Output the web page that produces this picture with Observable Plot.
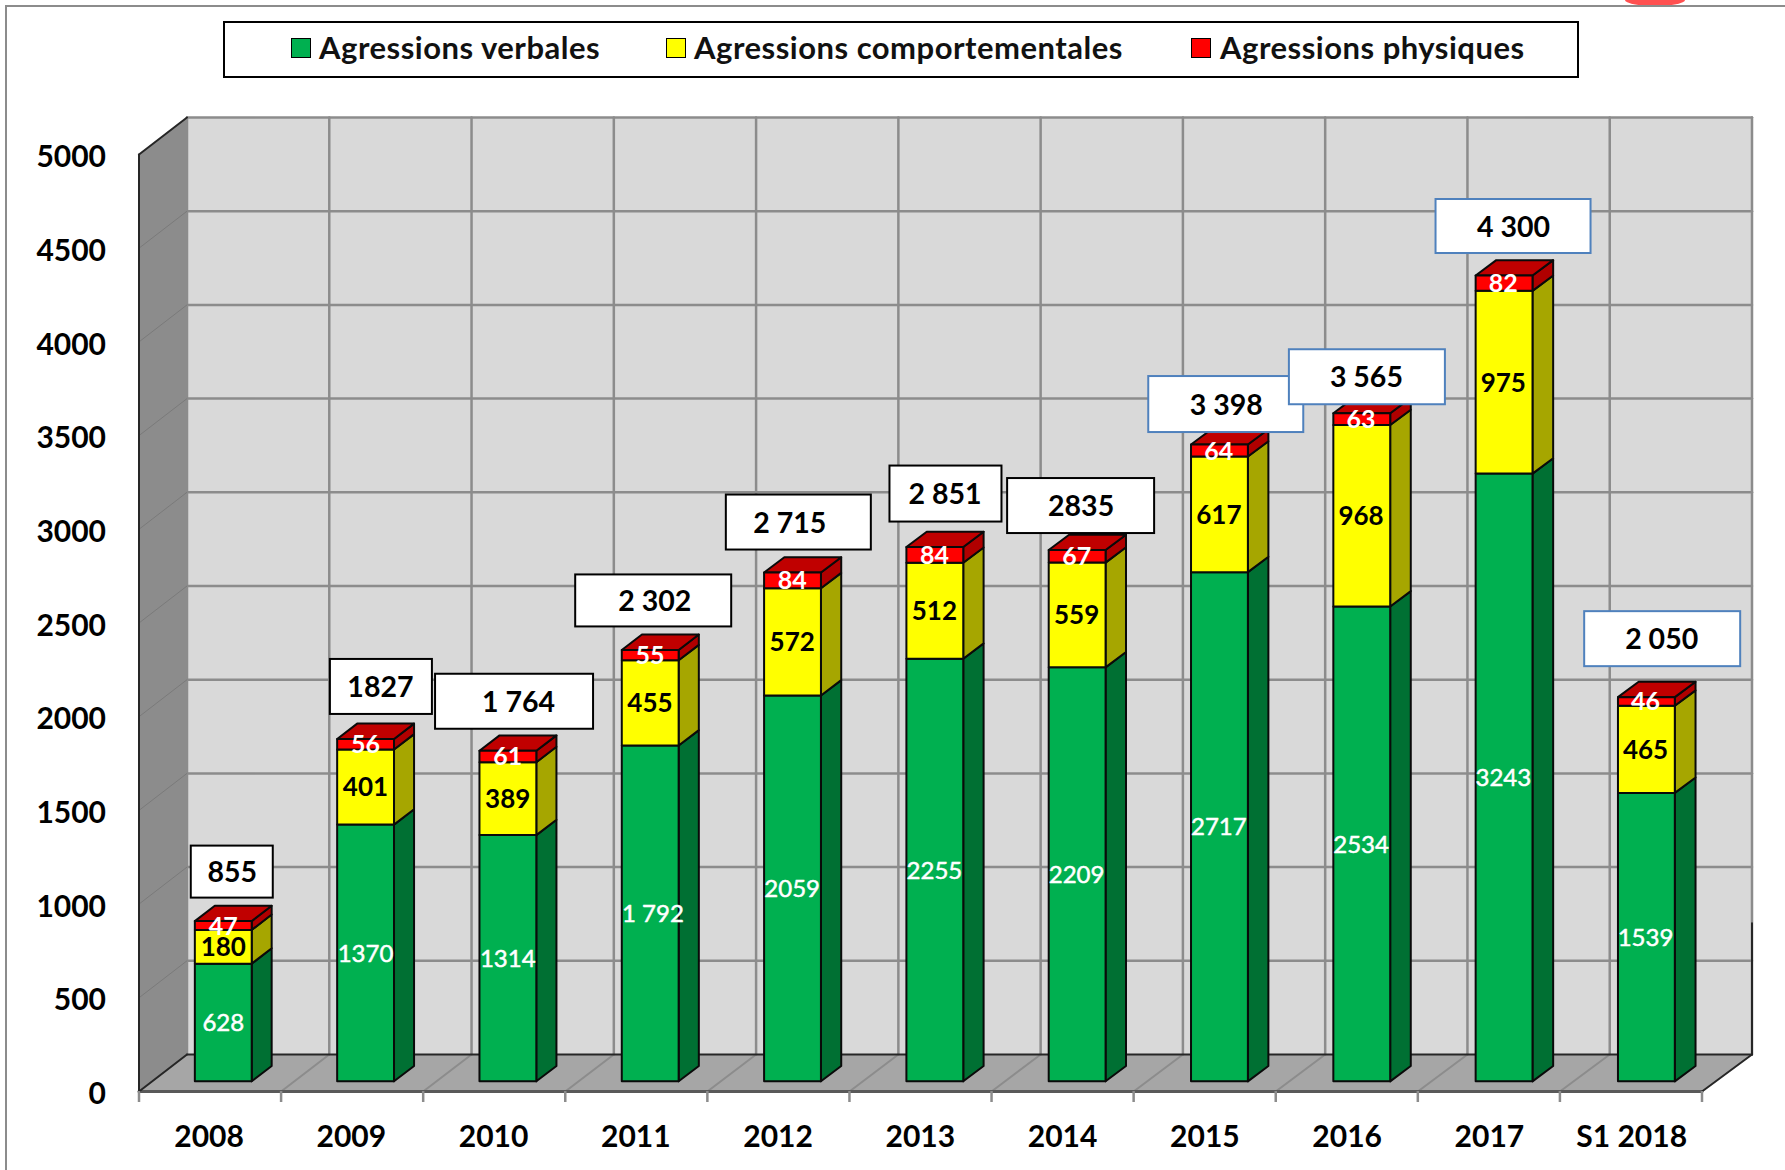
<!DOCTYPE html>
<html lang="fr">
<head>
<meta charset="utf-8">
<script src="https://cdn.jsdelivr.net/npm/d3@7"></script>
<script src="https://cdn.jsdelivr.net/npm/@observablehq/plot@0.6"></script>
<style>
  html, body { margin: 0; padding: 0; background: #fff; overflow: hidden; }
  #page { position: relative; width: 1785px; height: 1170px; overflow: hidden; font-family: Lato, sans-serif; }
  #page svg { display: block; }
  #border { position: absolute; left: 5px; top: 5px; right: -10px; bottom: -10px; border: 2px solid #8c8c8c; }
  #blob { position: absolute; left: 1625px; top: -6px; width: 60px; height: 12px; border-radius: 50%; background: #ff5050; }
  #legend { position: absolute; left: 223px; top: 21px; width: 1352px; height: 53px; border: 2px solid #000; background: #fff; }
  #legend i { position: absolute; top: 15px; width: 18px; height: 18px; border: 1.5px solid #000; }
  #legend span { position: absolute; top: 6px; font-size: 31px; letter-spacing: 0.5px; line-height: 36px; font-weight: 700; color: #111; white-space: nowrap; }
</style>
</head>
<body>
<div id="page">
  <div id="blob"></div>
  <div id="border"></div>
  <div id="chart"></div>
  <div id="legend"></div>
</div>
<script>
// ---- values ----
const categories = ["2008","2009","2010","2011","2012","2013","2014","2015","2016","2017","S1 2018"];
const verbales = [628,1370,1314,1792,2059,2255,2209,2717,2534,3243,1539];
const comportementales = [180,401,389,455,572,512,559,617,968,975,465];
const physiques = [47,56,61,55,84,84,67,64,63,82,46];
const verbalesLabels = ["628","1370","1314","1 792","2059","2255","2209","2717","2534","3243","1539"];
const totalLabels = ["855","1827","1 764","2 302","2 715","2 851","2835","3 398","3 565","4 300","2 050"];
const yTicks = [0,500,1000,1500,2000,2500,3000,3500,4000,4500,5000];
const seriesNames = ["Agressions verbales","Agressions comportementales","Agressions physiques"];

// ---- look and layout (not data) ----
const W = 1785, H = 1170, mL = 138.5, mR = 83.5, mT = 154, mB = 79;
const pxX = 11 / (W - mL - mR), pxY = 5000 / (H - mT - mB);   // px -> data units
const DY = 37 * pxY;                                          // oblique depth vector of the 3D box
const barFront = 0.275, barBack = 0.69, barHalf = 0.2;        // bar depth range, half width
const barSpread = 1.0012;                                     // bars sit on a slightly wider pitch than the ticks
const labelSpread = 1.0006;                                   // the bar labels drift a little less than the bars
const seriesColors = [
  {front: "#00b050", side: "#007033", top: "#007033", text: "#fff", weight: 400, size: 24, halo: 0.5},
  {front: "#ffff00", side: "#a6a600", top: "#a6a600", text: "#000", weight: 700, size: 26, halo: 0},
  {front: "#ff0000", side: "#b00000", top: "#c00000", text: "#fff", weight: 700, size: 25, halo: 0}
];
// callout offset from the top-centre of the bar's front face, size, then text shift, in px
const calloutOffsets = [
  [9,-49,82,52,0],[16,-52,102,55,-1],[7,-49,158,55,4],[4,-49,156,52,1],[7,-50,145,55,-9],[12,-53,112,56,-1],
  [5,-44,147,55,0],[8,-40,155,56,0],[7,-36,156,55,-1],[11,-49,155,54,0],[18,-58,156,55,-1]
];
const blueFrom = 7;  // callouts from 2015 on have a blue outline
const labelShift = {"1 792": 3};  // this one label sits off-centre in the reference

// project a point (category position, value, depth 0..1) into the x / y scales
const n = categories.length, yMax = yTicks[yTicks.length - 1];
const p = (i, v, d = 0) => ({x: i + d * (48 + 2 * i / n) * pxX, y: v + d * DY});
const poly = (id, pts) => [...pts, pts[0]].map(q => ({id, ...q}));
const seg = (id, a, b) => [a, b].map(q => ({id, ...q}));

// ---- 3D box ----
const back = poly("back", [p(0,0,1), p(n,0,1), p(n,yMax,1), p(0,yMax,1)]);
const left = poly("left", [p(0,0,0), p(0,0,1), p(0,yMax,1), p(0,yMax,0)]);
const floor = poly("floor", [p(0,0,0), p(n,0,0), p(n,0,1), p(0,0,1)]);

const gridBack = [
  ...yTicks.slice(1).flatMap(v => seg("h" + v, p(0,v,1), p(n,v,1))),
  ...d3.range(0, n + 1).flatMap(i => seg("v" + i, p(i,0,1), p(i,yMax,1)))
];
const gridLeft = yTicks.slice(1, -1).flatMap(v => seg("l" + v, p(0,v,0), p(0,v,1)));
const gridFloor = d3.range(1, n).flatMap(i => seg("f" + i, p(i,0,0), p(i,0,1)));
const darkEdges = [
  ...seg("e1", p(0,0,0), p(0,yMax,0)),
  ...seg("e2", p(0,yMax,0), p(0,yMax,1)),
  ...seg("e3", p(0,0,0), p(0,0,1)),
  ...seg("e4", p(0,0,1), p(n,0,1)),
  ...seg("e5", p(n,0,0), p(n,0,1)),
  ...seg("e6", p(n,0,1), p(n,700,1))
];
const frontEdge = seg("fe", p(0,0,0), p(n,0,0));

// ---- bars ----
const series = [verbales, comportementales, physiques];
const sideFaces = [[], [], []], frontFaces = [[], [], []], topFaces = [];
const labels = [[], [], []];
const totals = categories.map((c, i) => d3.sum(series, s => s[i]));
categories.forEach((c, i) => {
  const slot = i * barSpread;
  const a = slot + 0.5 - barHalf, b = slot + 0.5 + barHalf;
  let base = 0;
  series.forEach((s, k) => {
    const v0 = base, v1 = base + s[i];
    base = v1;
    frontFaces[k].push(...poly(`f${k}-${i}`, [p(a,v0,barFront), p(b,v0,barFront), p(b,v1,barFront), p(a,v1,barFront)]));
    sideFaces[k].push(...poly(`s${k}-${i}`, [p(b,v0,barFront), p(b,v0,barBack), p(b,v1,barBack), p(b,v1,barFront)]));
    const c0 = p(i * labelSpread + 0.5, (v0 + v1) / 2, barFront);
    const text = k === 0 ? verbalesLabels[i] : String(s[i]);
    labels[k].push({...c0, x: c0.x + (labelShift[text] || 0) * pxX, text});
  });
  topFaces.push(...poly(`t${i}`, [p(a,base,barFront), p(b,base,barFront), p(b,base,barBack), p(a,base,barBack)]));
});

// ---- callouts ----
const callouts = categories.map((c, i) => {
  const [dx, dy, w, h, shift] = calloutOffsets[i];
  const q = p(i + 0.5, totals[i], barFront);
  const cx = q.x + dx * pxX, cy = q.y - dy * pxY;
  return {i, cx, cy, tx: cx + shift * pxX, x1: cx - w / 2 * pxX, x2: cx + w / 2 * pxX, y1: cy - h / 2 * pxY, y2: cy + h / 2 * pxY, text: totalLabels[i]};
});

const faces = (rows, fill) => Plot.line(rows, {x: "x", y: "y", z: "id", fill, stroke: "#0a0a0a", strokeWidth: 2, strokeLinejoin: "round"});
const plain = (rows, fill) => Plot.line(rows, {x: "x", y: "y", z: "id", fill, stroke: "none"});
const lines = (rows, stroke, strokeWidth) => Plot.line(rows, {x: "x", y: "y", z: "id", stroke, strokeWidth});

const chart = Plot.plot({
  width: W, height: H,
  marginLeft: mL, marginRight: mR, marginTop: mT, marginBottom: mB,
  x: {type: "linear", domain: [0, n]},
  y: {domain: [0, yMax]},
  style: {fontFamily: "Lato, sans-serif", background: "transparent", overflow: "visible"},
  marks: [
    plain(back, "#d9d9d9"),
    plain(left, "#8c8c8c"),
    plain(floor, "#a6a6a6"),
    lines(gridBack, "#8c8c8c", 2.5),
    lines(gridLeft, "#7a7a7a", 1),
    lines(gridFloor, "#8c8c8c", 2),
    lines(frontEdge, "#595959", 3),
    lines(darkEdges, "#262626", 2),
    Plot.ruleX(d3.range(0, n + 1), {y1: 0, y2: -11 * pxY, stroke: "#8c8c8c", strokeWidth: 2.5}),
    Plot.axisY({ticks: yTicks, tickSize: 0, tickPadding: 33, dy: 3, tickFormat: d => String(d), label: null, fontSize: 30, fontWeight: 700, fill: "#000"}),
    Plot.axisX({ticks: d3.range(0, n).map(i => i * barSpread + 0.5), tickSize: 0, tickPadding: 34, dx: -1, tickFormat: d => categories[Math.floor(d)], label: null, fontSize: 30, fontWeight: 700, fill: "#000"}),
    ...sideFaces.map((rows, k) => faces(rows, seriesColors[k].side)),
    faces(topFaces, seriesColors[2].top),
    ...frontFaces.map((rows, k) => faces(rows, seriesColors[k].front)),
    ...labels.map((rows, k) => Plot.text(rows, {x: "x", y: "y", dy: 1, text: "text", fill: seriesColors[k].text, stroke: seriesColors[k].halo ? seriesColors[k].text : "none", strokeWidth: seriesColors[k].halo, fontSize: seriesColors[k].size, fontWeight: seriesColors[k].weight})),
    Plot.rect(callouts, {x1: "x1", x2: "x2", y1: "y1", y2: "y2", fill: "#fff", stroke: d => d.i >= blueFrom ? "#4f81bd" : "#000", strokeWidth: 2}),
    Plot.text(callouts, {x: "tx", y: "cy", dy: 1, text: "text", fill: "#000", fontSize: 28.5, fontWeight: 700})
  ]
});
document.getElementById("chart").append(chart);

// ---- legend ----
const legend = document.getElementById("legend");
const swatchLeft = [66, 441, 966], textLeft = [94, 469, 995];
seriesNames.forEach((name, k) => {
  const sw = document.createElement("i");
  sw.style.left = swatchLeft[k] + "px";
  sw.style.background = seriesColors[k].front;
  const t = document.createElement("span");
  t.style.left = textLeft[k] + "px";
  t.textContent = name;
  legend.append(sw, t);
});
</script>
</body>
</html>
